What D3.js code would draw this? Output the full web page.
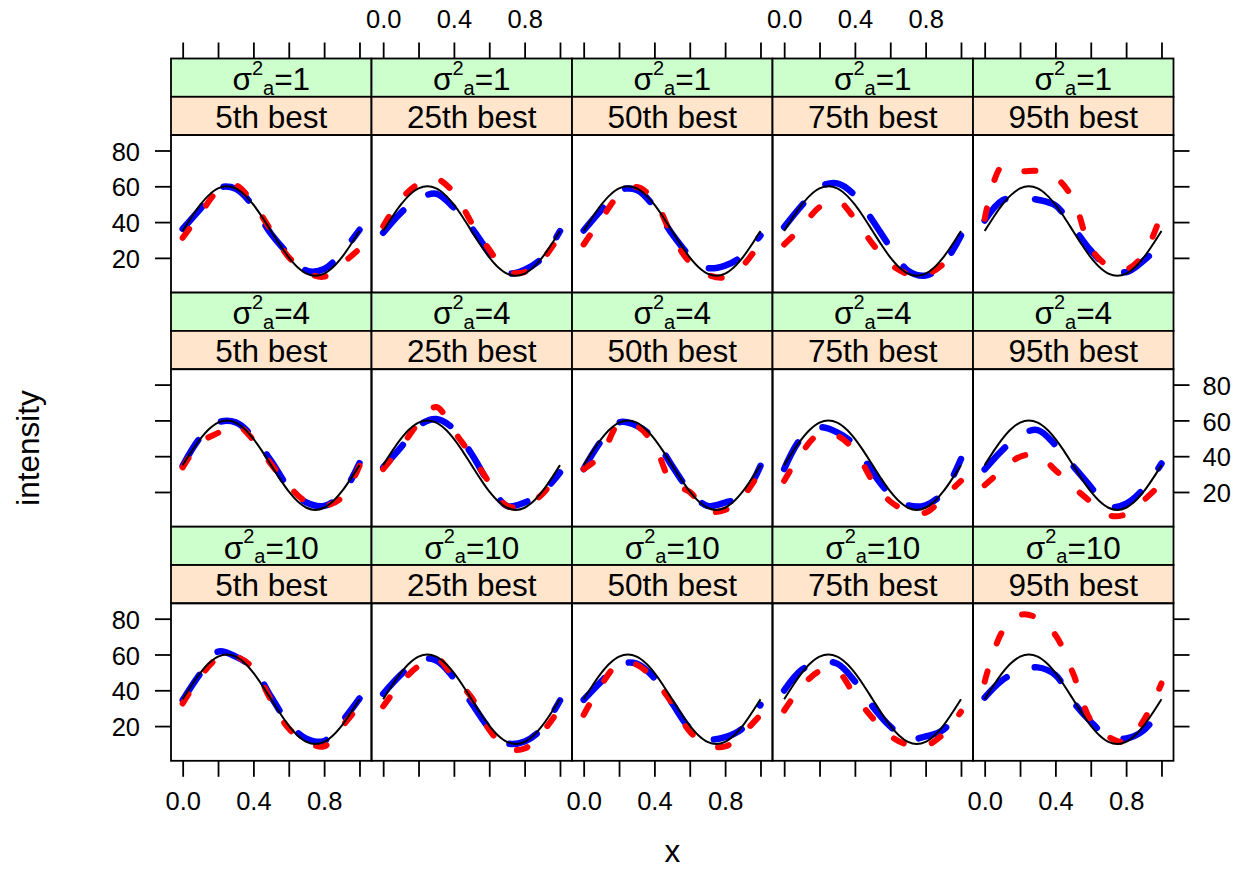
<!DOCTYPE html>
<html><head><meta charset="utf-8">
<script src="https://cdn.jsdelivr.net/npm/d3@7"></script>
<style>
body{margin:0;background:#fff}
svg{display:block}
text{font-family:"Liberation Sans",Arial,Helvetica,sans-serif;fill:#000}
</style>
</head><body>
<svg id="chart" width="1253" height="871"></svg>
<script>
// ---------------- data ----------------
const xGrid = [0, 0.1, 0.2, 0.3, 0.4, 0.5, 0.6, 0.7, 0.8, 0.9, 1.0];
const truthX = [0,0.05,0.1,0.15,0.2,0.25,0.3,0.35,0.4,0.45,0.5,0.55,0.6,0.65,0.7,0.75,0.8,0.85,0.9,0.95,1.0];
const truthY = [35,42.7,49.7,55.2,58.8,60,58.8,55.2,49.7,42.7,35,27.3,20.3,14.8,11.2,10,11.2,14.8,20.3,27.3,35];

const sigmaLevels = ["1", "4", "10"];
const rankLabels = ["5th best", "25th best", "50th best", "75th best", "95th best"];
const xTicks = [0, 0.2, 0.4, 0.6, 0.8, 1.0];
const xLabelTicks = [0, 0.4, 0.8];
const yTicks = [20, 40, 60, 80];

// blue (long dash) estimates, rows = sigma^2_a, cols = rank
const blueSigma1 = [
  [36.2, 47.4, 59.0, 58.6, 48.7, 33.4, 22.0, 12.9, 13.8, 23.0, 35.7],
  [34.0, 45.2, 53.0, 55.8, 48.0, 36.8, 22.8, 11.6, 13.4, 20.0, 35.0],
  [35.3, 46.9, 57.7, 58.0, 48.4, 33.4, 21.3, 14.4, 15.7, 21.3, 32.5],
  [37.2, 49.3, 59.6, 61.6, 54.9, 40.9, 26.0, 12.9, 10.1, 16.6, 32.5],
  [40.9, 52.1, 53.5, 52.5, 49.3, 37.2, 24.1, 14.8, 12.0, 18.5, 28.0]
];
const redSigma1 = [
  [31.2, 44.6, 57.3, 60.5, 50.2, 35.3, 20.4, 12.0, 9.5, 16.6, 25.0],
  [37.7, 52.7, 61.4, 64.2, 56.4, 39.6, 24.6, 12.5, 12.1, 19.0, 33.0],
  [27.5, 41.8, 54.9, 59.6, 52.0, 32.5, 17.6, 10.6, 9.2, 15.7, 28.8],
  [27.5, 37.2, 48.4, 52.0, 41.8, 27.8, 16.6, 11.0, 10.6, 16.6, 27.5],
  [41.8, 71.5, 68.5, 68.5, 65.0, 53.0, 25.5, 15.5, 13.5, 22.0, 44.8]
];
const blueSigma4 = [
  [34.6, 50.5, 58.9, 58.9, 50.5, 37.4, 22.5, 14.1, 12.2, 18.8, 36.1],
  [33.7, 44.9, 57.0, 60.8, 55.2, 41.2, 24.8, 12.2, 14.1, 19.7, 30.9],
  [32.8, 48.6, 58.9, 57.0, 49.6, 34.6, 20.6, 12.2, 14.1, 17.8, 34.6],
  [32.8, 50.5, 56.1, 53.3, 46.2, 30.9, 18.8, 12.6, 12.6, 19.7, 38.4],
  [32.6, 43.4, 51.8, 54.6, 46.2, 34.5, 22.9, 11.7, 13.5, 21.9, 35.9]
];
const redSigma4 = [
  [33.7, 47.5, 53.0, 57.5, 49.0, 35.6, 23.4, 14.5, 12.2, 16.9, 34.6],
  [32.8, 45.0, 58.5, 67.5, 54.0, 40.3, 25.3, 12.2, 12.2, 18.8, 31.9],
  [32.8, 40.5, 58.0, 57.0, 46.0, 25.0, 20.0, 9.5, 10.0, 17.5, 31.8],
  [26.2, 42.1, 52.4, 51.4, 43.0, 26.2, 14.7, 9.4, 8.5, 16.9, 26.2],
  [23.8, 32.2, 39.7, 40.6, 32.2, 22.9, 14.5, 7.0, 7.6, 15.4, 24.7]
];
const blueSigma10 = [
  [34.5, 49.4, 61.6, 58.8, 52.2, 36.4, 21.4, 13.0, 11.7, 22.4, 35.4],
  [38.0, 48.7, 57.0, 56.7, 46.8, 32.8, 18.8, 10.4, 11.4, 18.8, 34.3],
  [34.7, 45.0, 54.3, 54.9, 46.8, 32.8, 18.8, 12.7, 13.8, 18.8, 31.9],
  [39.9, 51.5, 55.6, 54.9, 45.0, 31.0, 19.8, 12.7, 14.2, 17.9, 30.0],
  [35.9, 45.7, 50.7, 52.8, 48.5, 33.6, 22.4, 14.0, 13.1, 17.7, 29.9]
];
const redSigma10 = [
  [32.6, 47.6, 57.9, 58.8, 52.2, 34.5, 18.6, 11.2, 8.7, 19.6, 31.7],
  [31.0, 44.0, 53.5, 58.0, 47.0, 36.0, 18.0, 7.5, 7.5, 16.5, 30.0],
  [26.3, 43.1, 54.8, 54.3, 45.9, 32.8, 17.0, 9.5, 8.6, 16.0, 26.3],
  [28.7, 42.2, 50.6, 50.6, 37.0, 24.5, 14.5, 9.5, 9.0, 15.5, 28.0],
  [44.8, 72.8, 82.1, 80.3, 70.9, 49.4, 23.3, 14.0, 11.2, 23.3, 43.8]
];

const blueRows = [blueSigma1, blueSigma4, blueSigma10];
const redRows = [redSigma1, redSigma4, redSigma10];

// ---------------- layout ----------------
const L = 171, R = 1173.5, T = 58.5, B = 760.8;
const nCol = 5, nRow = 3;
const colW = (R - L) / nCol;
const rowH = (B - T) / nRow;
const stripH = 38.3;
const tickFs = 25.5, stripFs = 31.5, labFs = 31.5;

const svg = d3.select("#chart");
const xBase = d3.scaleLinear().domain([-0.066, 1.068]);
const yBase = d3.scaleLinear().domain([0.6, 88.6]);

const lineGen = (xs, ys) => d3.line()
  .x(d => xs(d[0])).y(d => ys(d[1]))
  .curve(d3.curveCatmullRom.alpha(0.5));

const defs = svg.append("defs");

for (let r = 0; r < nRow; r++) {
  for (let c = 0; c < nCol; c++) {
    const px0 = L + c * colW, px1 = px0 + colW;
    const sTop = T + r * rowH;
    const pTop = sTop + 2 * stripH, pBot = sTop + rowH;
    const xs = xBase.copy().range([px0, px1]);
    const ys = yBase.copy().range([pBot, pTop]);
    const g = svg.append("g");

    // strips
    g.append("rect").attr("x", px0).attr("y", sTop).attr("width", colW).attr("height", stripH)
      .attr("fill", "#CCFFCC").attr("stroke", "#000").attr("stroke-width", 1.8);
    const st = g.append("text").attr("x", (px0 + px1) / 2).attr("y", sTop + stripH - 6.5)
      .attr("text-anchor", "middle").attr("font-size", stripFs);
    st.append("tspan").text("\u03C3");
    st.append("tspan").attr("font-size", 20).attr("dy", -15.5).text("2");
    st.append("tspan").attr("font-size", 20).attr("dy", 20).text("a");
    st.append("tspan").attr("dy", -4.5).text("=" + sigmaLevels[r]);

    g.append("rect").attr("x", px0).attr("y", sTop + stripH).attr("width", colW).attr("height", stripH)
      .attr("fill", "#FFE5CC").attr("stroke", "#000").attr("stroke-width", 1.8);
    g.append("text").attr("x", (px0 + px1) / 2).attr("y", sTop + 2 * stripH - 7)
      .attr("text-anchor", "middle").attr("font-size", stripFs).text(rankLabels[c]);

    // clip
    const cid = `clip-${r}-${c}`;
    defs.append("clipPath").attr("id", cid).append("rect")
      .attr("x", px0).attr("y", pTop).attr("width", colW).attr("height", pBot - pTop);

    const lg = g.append("g").attr("clip-path", `url(#${cid})`);
    const blueData = xGrid.map((xv, i) => [xv, blueRows[r][c][i]]);
    const redData = xGrid.map((xv, i) => [xv, redRows[r][c][i]]);
    const truthData = truthX.map((xv, i) => [xv, truthY[i]]);

    lg.append("path").datum(blueData).attr("d", lineGen(xs, ys))
      .attr("fill", "none").attr("stroke", "#0000FF").attr("stroke-width", 6.5)
      .attr("stroke-linecap", "round").attr("stroke-dasharray", "30,30");
    lg.append("path").datum(redData).attr("d", lineGen(xs, ys))
      .attr("fill", "none").attr("stroke", "#FF0000").attr("stroke-width", 6)
      .attr("stroke-linecap", "round").attr("stroke-dasharray", "11,29");
    lg.append("path").datum(truthData).attr("d", lineGen(xs, ys))
      .attr("fill", "none").attr("stroke", "#000").attr("stroke-width", 2);

    // panel border
    g.append("rect").attr("x", px0).attr("y", pTop).attr("width", colW).attr("height", pBot - pTop)
      .attr("fill", "none").attr("stroke", "#000").attr("stroke-width", 1.8);

    const styleAxis = (ax) => {
      ax.select(".domain").remove();
      ax.attr("font-size", tickFs).attr("font-family", null);
      ax.selectAll("line").attr("stroke-width", 1.8);
    };
    const xFmt = (show) => (d) => (show && xLabelTicks.some(v => Math.abs(v - d) < 1e-9)) ? d3.format(".1f")(d) : "";
    const yFmt = (show) => (d) => show ? String(d) : "";

    // top axis
    if (r === 0) {
      svg.append("g").attr("transform", `translate(0,${sTop})`)
        .call(d3.axisTop(xs).tickValues(xTicks).tickSize(16).tickPadding(14.5).tickFormat(xFmt(c % 2 === 1)))
        .call(styleAxis);
    }
    // bottom axis
    if (r === nRow - 1) {
      const ax = svg.append("g").attr("transform", `translate(0,${pBot})`)
        .call(d3.axisBottom(xs).tickValues(xTicks).tickSize(16).tickPadding(15).tickFormat(xFmt(c % 2 === 0)))
        .call(styleAxis);
      ax.selectAll("text").attr("dy", "0.71em");
    }
    // left axis
    if (c === 0) {
      const ax = svg.append("g").attr("transform", `translate(${px0},0)`)
        .call(d3.axisLeft(ys).tickValues(yTicks).tickSize(16).tickPadding(15).tickFormat(yFmt(r !== 1)))
        .call(styleAxis);
      ax.selectAll("text").attr("dy", "0.38em");
    }
    // right axis
    if (c === nCol - 1) {
      const ax = svg.append("g").attr("transform", `translate(${px1},0)`)
        .call(d3.axisRight(ys).tickValues(yTicks).tickSize(16).tickPadding(13).tickFormat(yFmt(r === 1)))
        .call(styleAxis);
      ax.selectAll("text").attr("dy", "0.38em");
    }
  }
}

// axis titles
svg.append("text").attr("x", (L + R) / 2).attr("y", 862).attr("text-anchor", "middle")
  .attr("font-size", labFs).text("x");
svg.append("text").attr("transform", `translate(39,448) rotate(-90)`).attr("text-anchor", "middle")
  .attr("font-size", labFs).text("intensity");
</script>
</body></html>
